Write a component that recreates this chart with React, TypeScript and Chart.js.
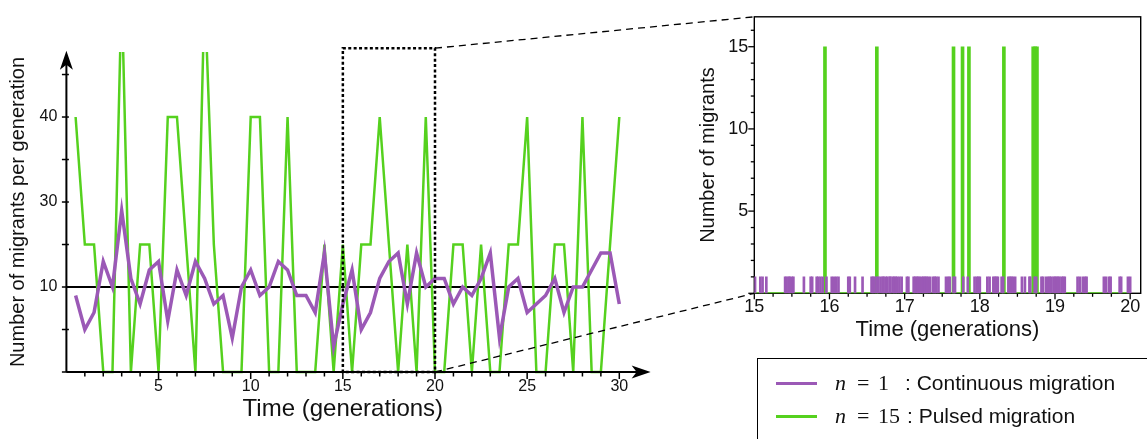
import React, { useEffect, useRef } from 'react';
import { Chart, registerables } from 'chart.js';

Chart.register(...registerables);

const PURPLE = '#9b59b6';
const GREEN = '#55d11e';
const SANS = 'Liberation Sans, Arial, Helvetica, sans-serif';
const SERIF = 'Liberation Serif, Times New Roman, serif';

// ---------- left panel data (migrants per half generation) ----------
const generations = [
  0.5, 1, 1.5, 2, 2.5, 3, 3.5, 4, 4.5, 5, 5.5, 6, 6.5, 7, 7.5, 8, 8.5, 9, 9.5, 10,
  10.5, 11, 11.5, 12, 12.5, 13, 13.5, 14, 14.5, 15, 15.5, 16, 16.5, 17, 17.5, 18, 18.5, 19, 19.5, 20,
  20.5, 21, 21.5, 22, 22.5, 23, 23.5, 24, 24.5, 25, 25.5, 26, 26.5, 27, 27.5, 28, 28.5, 29, 29.5, 30,
];
const continuousMigrants = [
  9, 5, 7, 13, 10, 19, 11, 8, 12, 13, 6, 12, 9, 13, 11, 8, 9, 4, 10, 12,
  9, 10, 13, 12, 9, 9, 7, 14, 3, 8, 12, 5, 7, 11, 13, 14, 8, 14, 10, 11,
  11, 8, 10, 9, 11, 14, 4, 10, 11, 7, 8, 9, 11, 7, 10, 10, 12, 14, 14, 8,
];
const pulsedMigrants = [
  30, 15, 15, 0, 0, 45, 0, 15, 15, 0, 30, 30, 15, 0, 45, 15, 0, 0, 0, 30,
  30, 0, 0, 30, 0, 0, 0, 15, 0, 15, 0, 15, 15, 30, 15, 0, 15, 0, 30, 0,
  0, 15, 15, 0, 15, 0, 0, 15, 15, 30, 0, 0, 15, 15, 0, 30, 0, 0, 15, 30,
];
const meanLineX = [0, 29.86];
const meanLineY = [10, 10];
const leftXTickValues = [5, 10, 15, 20, 25, 30];
const leftYTickValues = [10, 20, 30];
const leftYTickLabels = ['10', '30', '40'];
const zoomWindow = [15, 20];
const zoomWindowTop = 38.1;

// ---------- right panel data (individual migration events) ----------
const continuousEventTimes = [
  15.01, 15.08, 15.11, 15.16, 15.41, 15.43, 15.46, 15.47, 15.5, 15.52, 15.66, 15.75, 15.77, 15.83,
  15.85, 15.88, 15.91, 15.96, 16.03, 16.06, 16.09, 16.12, 16.25, 16.27, 16.34, 16.44, 16.56, 16.58,
  16.6, 16.63, 16.65, 16.68, 16.71, 16.72, 16.75, 16.77, 16.8, 16.81, 16.84, 16.86, 16.88, 16.9,
  16.93, 16.96, 17.03, 17.05, 17.12, 17.14, 17.16, 17.18, 17.2, 17.23, 17.25, 17.27, 17.29, 17.31,
  17.34, 17.38, 17.4, 17.42, 17.45, 17.55, 17.58, 17.6, 17.65, 17.67, 17.78, 17.84, 17.93, 17.96,
  17.98, 18.0, 18.1, 18.13, 18.18, 18.2, 18.22, 18.24, 18.29, 18.31, 18.38, 18.4, 18.42, 18.44,
  18.47, 18.56, 18.6, 18.66, 18.67, 18.73, 18.75, 18.82, 18.84, 18.88, 18.91, 18.93, 18.95, 18.98,
  19.0, 19.02, 19.04, 19.06, 19.09, 19.11, 19.13, 19.3, 19.33, 19.37, 19.4, 19.42, 19.65, 19.68,
  19.72, 19.74, 19.86, 19.88, 19.97, 20.0,
];
const continuousEventSize = 1;
const pulseEventTimes = [15.94, 16.63, 17.65, 17.77, 17.855, 18.32, 18.71, 18.735, 18.76];
const pulseEventSize = 15;
const rightXTickValues = [15, 16, 17, 18, 19, 20];
const rightYTickValues = [5, 10, 15];

const legendItems = [
  { color: PURPLE, n: '1', text: ': Continuous migration' },
  { color: GREEN, n: '15', text: ': Pulsed migration' },
];

export default function App() {
  const leftRef = useRef<HTMLCanvasElement>(null);
  const rightRef = useRef<HTMLCanvasElement>(null);

  useEffect(() => {
    const rightCanvas = rightRef.current!;
    const leftCanvas = leftRef.current!;
    const RIGHT_OFFSET_X = 690;

    const rightDecor = {
      id: 'rightDecor',
      beforeDatasetsDraw(chart: any) {
        const { ctx, chartArea: a } = chart;
        const xs = chart.scales.x;
        const ys = chart.scales.y;
        ctx.save();
        ctx.strokeStyle = '#000';
        ctx.lineWidth = 1.4;
        ctx.strokeRect(a.left, a.top, a.right - a.left, a.bottom - a.top);
        ctx.lineWidth = 1.3;
        for (let q = 0; q <= 20; q++) {
          const v = 15 + q * 0.25;
          const x = xs.getPixelForValue(v);
          const len = q % 4 === 0 ? 6 : 3.5;
          ctx.beginPath();
          ctx.moveTo(x, a.bottom);
          ctx.lineTo(x, a.bottom + len);
          ctx.stroke();
        }
        for (let v = 0; v <= 16; v++) {
          const y = ys.getPixelForValue(v);
          const len = v % 5 === 0 ? 6 : 3.5;
          ctx.beginPath();
          ctx.moveTo(a.left - len, y);
          ctx.lineTo(a.left, y);
          ctx.stroke();
        }
        ctx.restore();
      },
    };

    const right = new Chart(rightCanvas, {
      type: 'bar',
      data: {
        datasets: [
          {
            type: 'bar',
            data: continuousEventTimes.map((t) => ({ x: t, y: continuousEventSize })),
            backgroundColor: PURPLE,
            borderWidth: 0,
            barThickness: 2,
            grouped: false,
          } as any,
          {
            type: 'bar',
            data: pulseEventTimes.map((t) => ({ x: t, y: pulseEventSize })),
            backgroundColor: GREEN,
            borderWidth: 0,
            barThickness: 3,
            grouped: false,
          } as any,
          {
            type: 'line',
            data: zoomWindow.map((t) => ({ x: t, y: 0 })),
            borderColor: GREEN,
            borderWidth: 2,
            pointRadius: 0,
          } as any,
        ],
      },
      options: {
        responsive: false,
        animation: false,
        events: [],
        layout: { padding: { left: 0, top: 6.7, right: 6.3, bottom: 0 } },
        plugins: { legend: { display: false }, tooltip: { enabled: false } },
        scales: {
          x: {
            type: 'linear',
            min: 15,
            max: 20.14,
            offset: false,
            afterBuildTicks: (s: any) => {
              s.ticks = rightXTickValues.map((v) => ({ value: v }));
            },
            afterFit: (s: any) => {
              s.height = 51.7;
            },
            grid: { display: false, drawTicks: false },
            border: { display: false },
            ticks: {
              autoSkip: false,
              maxRotation: 0,
              padding: 3,
              color: '#111',
              font: { family: SANS, size: 18 },
              callback: (v: any) => String(v),
            },
            title: {
              display: true,
              text: 'Time (generations)',
              color: '#111',
              font: { family: SANS, size: 22 },
              padding: { top: 0, bottom: 2 },
            },
          },
          y: {
            type: 'linear',
            min: 0,
            max: 16.82,
            afterBuildTicks: (s: any) => {
              s.ticks = rightYTickValues.map((v) => ({ value: v }));
            },
            afterFit: (s: any) => {
              s.width = 64.3;
            },
            grid: { display: false, drawTicks: false },
            border: { display: false },
            ticks: {
              autoSkip: false,
              padding: 6,
              color: '#111',
              font: { family: SANS, size: 18 },
              callback: (v: any) => String(v),
            },
            title: {
              display: true,
              text: 'Number of migrants',
              color: '#111',
              font: { family: SANS, size: 20 },
              padding: { top: 6, bottom: 0 },
            },
          },
        },
      } as any,
      plugins: [rightDecor],
    });

    const leftDecor = {
      id: 'leftDecor',
      afterDraw(chart: any) {
        const { ctx } = chart;
        const xs = chart.scales.x;
        const ys = chart.scales.y;
        const px = (v: number) => xs.getPixelForValue(v);
        const py = (v: number) => ys.getPixelForValue(v);
        const ax = px(0);
        const ay = py(0);
        const xTip = px(31.7);
        const yTip = py(37.8);
        ctx.save();
        ctx.setLineDash([]);
        ctx.strokeStyle = '#000';
        ctx.fillStyle = '#000';
        ctx.lineWidth = 2;
        ctx.beginPath();
        ctx.moveTo(ax, ay);
        ctx.lineTo(xTip - 8, ay);
        ctx.stroke();
        ctx.beginPath();
        ctx.moveTo(ax, ay);
        ctx.lineTo(ax, yTip + 8);
        ctx.stroke();
        // arrow heads
        ctx.beginPath();
        ctx.moveTo(xTip, ay);
        ctx.lineTo(xTip - 19, ay - 6.5);
        ctx.lineTo(xTip - 14, ay);
        ctx.lineTo(xTip - 19, ay + 6.5);
        ctx.closePath();
        ctx.fill();
        ctx.beginPath();
        ctx.moveTo(ax, yTip);
        ctx.lineTo(ax - 6.5, yTip + 19);
        ctx.lineTo(ax, yTip + 14);
        ctx.lineTo(ax + 6.5, yTip + 19);
        ctx.closePath();
        ctx.fill();
        // ticks
        ctx.lineWidth = 1.5;
        for (let g = 1; g <= 30; g++) {
          const x = px(g);
          const len = g % 5 === 0 ? 7 : 4.5;
          ctx.beginPath();
          ctx.moveTo(x, ay);
          ctx.lineTo(x, ay + len);
          ctx.stroke();
        }
        for (let v = 0; v <= 35; v += 5) {
          const y = py(v);
          ctx.beginPath();
          ctx.moveTo(ax - 4.5, y);
          ctx.lineTo(ax + 2.5, y);
          ctx.stroke();
        }
        // dotted zoom window
        const zx0 = px(zoomWindow[0]);
        const zx1 = px(zoomWindow[1]);
        const zTop = py(zoomWindowTop);
        ctx.lineWidth = 2.5;
        ctx.setLineDash([3, 2.4]);
        ctx.strokeRect(zx0, zTop, zx1 - zx0, ay - zTop);
        // connectors to the zoom panel
        const ra = right.chartArea;
        const rl = ra.left + RIGHT_OFFSET_X;
        ctx.lineWidth = 1.3;
        ctx.setLineDash([7, 5]);
        ctx.beginPath();
        ctx.moveTo(zx1, zTop);
        ctx.lineTo(rl, ra.top);
        ctx.stroke();
        ctx.beginPath();
        ctx.moveTo(zx1, ay);
        ctx.lineTo(rl, ra.bottom);
        ctx.stroke();
        ctx.restore();
      },
    };

    const clip = { left: 6, right: 6, top: 0, bottom: 6 };
    const left = new Chart(leftCanvas, {
      type: 'line',
      data: {
        datasets: [
          {
            data: generations.map((g, i) => ({ x: g, y: continuousMigrants[i] })),
            borderColor: PURPLE,
            borderWidth: 3.5,
            pointRadius: 0,
            tension: 0,
            clip,
          } as any,
          {
            data: generations.map((g, i) => ({ x: g, y: pulsedMigrants[i] })),
            borderColor: GREEN,
            borderWidth: 2.5,
            pointRadius: 0,
            tension: 0,
            clip,
          } as any,
          {
            data: meanLineX.map((g, i) => ({ x: g, y: meanLineY[i] })),
            borderColor: '#000',
            borderWidth: 2,
            pointRadius: 0,
            clip,
          } as any,
        ],
      },
      options: {
        responsive: false,
        animation: false,
        events: [],
        layout: { padding: { left: 0, top: 52, right: 1147 - 619.3, bottom: 0 } },
        plugins: { legend: { display: false }, tooltip: { enabled: false } },
        scales: {
          x: {
            type: 'linear',
            min: 0,
            max: 30,
            afterBuildTicks: (s: any) => {
              s.ticks = leftXTickValues.map((v) => ({ value: v }));
            },
            afterFit: (s: any) => {
              s.height = 67;
            },
            grid: { display: false, drawTicks: false },
            border: { display: false },
            ticks: {
              autoSkip: false,
              maxRotation: 0,
              padding: 5,
              color: '#111',
              font: { family: SANS, size: 16 },
              callback: (v: any) => String(v),
            },
            title: {
              display: true,
              text: 'Time (generations)',
              color: '#111',
              font: { family: SANS, size: 24 },
              padding: { top: 0, bottom: 15 },
            },
          },
          y: {
            type: 'linear',
            min: 0,
            max: 37.65,
            afterBuildTicks: (s: any) => {
              s.ticks = leftYTickValues.map((v) => ({ value: v }));
            },
            afterFit: (s: any) => {
              s.width = 66.4;
            },
            grid: { display: false, drawTicks: false },
            border: { display: false },
            ticks: {
              autoSkip: false,
              padding: 9,
              color: '#111',
              font: { family: SANS, size: 16 },
              callback: (_v: any, i: number) => leftYTickLabels[i],
            },
            title: {
              display: true,
              text: 'Number of migrants per generation',
              color: '#111',
              font: { family: SANS, size: 20 },
              padding: { top: 6, bottom: 0 },
            },
          },
        },
      } as any,
      plugins: [leftDecor],
    });

    return () => {
      left.destroy();
      right.destroy();
    };
  }, []);

  const rowY = [383, 416];
  return (
    <div
      style={{
        position: 'absolute',
        left: 0,
        top: 0,
        width: 1147,
        height: 439,
        overflow: 'hidden',
        background: '#fff',
      }}
    >
      <canvas ref={leftRef} width={1147} height={439} style={{ position: 'absolute', left: 0, top: 0 }} />
      <canvas ref={rightRef} width={457} height={345} style={{ position: 'absolute', left: 690, top: 0 }} />
      <div
        style={{
          position: 'absolute',
          left: 757,
          top: 358,
          width: 450,
          height: 150,
          border: '1px solid #000',
          boxSizing: 'border-box',
        }}
      />
      {legendItems.map((it, i) => {
        const y = rowY[i];
        const common: React.CSSProperties = {
          position: 'absolute',
          top: y - 13,
          height: 26,
          lineHeight: '26px',
          whiteSpace: 'nowrap',
          color: '#111',
        };
        return (
          <React.Fragment key={i}>
            <div
              style={{ position: 'absolute', left: 776, top: y - 1.5, width: 41, height: 3, background: it.color }}
            />
            <span style={{ ...common, left: 835, fontFamily: SERIF, fontStyle: 'italic', fontSize: 22 }}>n</span>
            <span style={{ ...common, left: 857, fontFamily: SERIF, fontSize: 22 }}>=</span>
            <span style={{ ...common, left: 878, fontFamily: SERIF, fontSize: 22 }}>{it.n}</span>
            <span style={{ ...common, left: i === 0 ? 905 : 907, fontFamily: SANS, fontSize: 21 }}>{it.text}</span>
          </React.Fragment>
        );
      })}
    </div>
  );
}
